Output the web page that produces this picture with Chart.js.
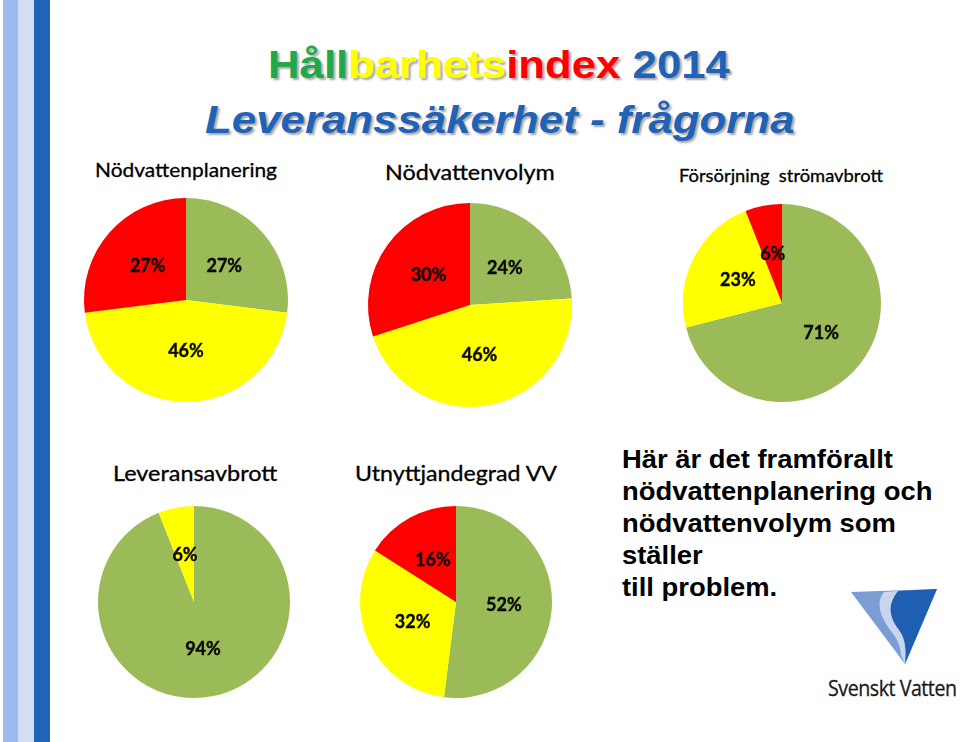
<!DOCTYPE html>
<html><head><meta charset="utf-8">
<script src="https://cdn.jsdelivr.net/npm/chart.js@4/dist/chart.umd.min.js"></script>
<style>
body{margin:0;width:960px;height:742px;background:#fff;position:relative;overflow:hidden;font-family:'Liberation Sans',Arial,sans-serif}
.stripe{position:absolute;top:0;height:742px}
.t{position:absolute;white-space:pre;transform-origin:left top;line-height:1}
canvas{position:absolute}
.h1{font-weight:bold;font-size:39px;text-shadow:2px 2px 2px rgba(0,0,0,0.35)}
.h2{font-weight:bold;font-style:italic;font-size:39px;color:#1f63b8;text-shadow:2px 2px 2px rgba(0,0,0,0.35)}
.ct{font-family:Lato,'Noto Sans',sans-serif;color:#000;-webkit-text-stroke:0.3px #000}
.rt{font-weight:bold;font-size:25px;line-height:32px;color:#000}
</style></head><body>
<div class="stripe" style="left:3px;width:15px;background:#9bbbee"></div>
<div class="stripe" style="left:18px;width:16px;background:#d5dcf5"></div>
<div class="stripe" style="left:34px;width:16px;background:#2064b8"></div>

<div id="title1" class="t h1"><span style="color:#22a84a">Håll</span><span style="color:#ffff00">barhets</span><span style="color:#ff0000">index</span><span style="color:#1f63b8"> 2014</span></div>
<div id="title2" class="t h2">Leveranssäkerhet - frågorna</div>

<div id="note" class="t rt">Här är det framförallt<br>nödvattenplanering och<br>nödvattenvolym som<br>ställer<br>till problem.</div>

<svg style="position:absolute;left:0;top:0" width="960" height="742">
  <path d="M851,592 L937,589 L905,664 Z" fill="#7b9dd3"/>
  <path d="M898,591 L937,589 L905,664 C906,650 906,640 899,630 C890,618 886,606 898,591 Z" fill="#1f5fb1"/>
  <path d="M884,592 L898,591 C886,606 890,618 899,630 C906,640 906,650 905,664 L901,655 C900,645 898,640 891,631 C879,615 876,602 884,592 Z" fill="#c8d5ee"/>
</svg>
<div id="logo" class="t" style="font-family:'Open Sans','Noto Sans',sans-serif;font-size:21px;color:#1a1a1a;letter-spacing:-0.5px;-webkit-text-stroke:0.3px #1a1a1a">Svenskt Vatten</div>

<canvas id="c1" width="230" height="230"></canvas>
<canvas id="c2" width="230" height="230"></canvas>
<canvas id="c3" width="230" height="230"></canvas>
<canvas id="c4" width="230" height="230"></canvas>
<canvas id="c5" width="230" height="230"></canvas>

<script>
// ---- data ----
const categories = ['Grön', 'Gul', 'Röd'];
const sliceColors = ['#9bbb59', '#ffff00', '#ff0000'];
const chartTitles = ['Nödvattenplanering', 'Nödvattenvolym', 'Försörjning  strömavbrott', 'Leveransavbrott', 'Utnyttjandegrad VV'];
const nodvattenplanering = [27, 46, 27];
const nodvattenvolym = [24, 46, 30];
const forsorjningStromavbrott = [71, 23, 6];
const leveransavbrott = [94, 6, 0];
const utnyttjandegradVV = [52, 32, 16];
const seriesList = [nodvattenplanering, nodvattenvolym, forsorjningStromavbrott, leveransavbrott, utnyttjandegradVV];

// ---- layout (not data) ----
const pies = [
  {id:'c1', cx:186, cy:300, r:102, tcx:186, tb:177, tw:182, ts:20},
  {id:'c2', cx:470, cy:305, r:102, tcx:470, tb:180, tw:170, ts:21},
  {id:'c3', cx:782, cy:303, r:99,  tcx:781, tb:182, tw:204, ts:17},
  {id:'c4', cx:194, cy:602, r:96,  tcx:195, tb:481, tw:164, ts:21},
  {id:'c5', cx:456, cy:602, r:96,  tcx:456, tb:481, tw:202, ts:21}
];

function fit(el, cx, left, top, width){
  const w = el.offsetWidth;
  const s = width / w;
  el.style.transform = 'scaleX(' + s + ')';
  el.style.left = (cx != null ? cx - width/2 : left) + 'px';
  el.style.top = top + 'px';
}

const labelPlugin = {
  id: 'pctLabels',
  afterDatasetsDraw(chart){
    const ctx = chart.ctx, ds = chart.data.datasets[0], meta = chart.getDatasetMeta(0);
    ctx.save();
    ctx.font = 'bold 18px Lato, "Noto Sans", sans-serif';
    ctx.fillStyle = '#0a0a0a';
    ctx.strokeStyle = '#0a0a0a';
    ctx.lineWidth = 0.4;
    ctx.textAlign = 'center';
    ctx.textBaseline = 'middle';
    meta.data.forEach((arc, i) => {
      const v = ds.data[i];
      if (!v) return;
      const a = (arc.startAngle + arc.endAngle) / 2;
      const rr = arc.outerRadius * 0.5;
      const x = arc.x + Math.cos(a) * rr, y = arc.y + Math.sin(a) * rr;
      ctx.fillText(v + '%', x, y);
      ctx.strokeText(v + '%', x, y);
    });
    ctx.restore();
  }
};

function build(){
  pies.forEach((p, k) => {
    const cv = document.getElementById(p.id);
    cv.style.left = (p.cx - 115) + 'px';
    cv.style.top = (p.cy - 115) + 'px';
    new Chart(cv, {
      type: 'pie',
      data: { labels: categories, datasets: [{ data: seriesList[k], backgroundColor: sliceColors, borderWidth: 0, hoverOffset: 0 }] },
      options: {
        responsive: false, animation: false, radius: p.r,
        layout: { padding: 0 },
        plugins: { legend: { display: false }, tooltip: { enabled: false } }
      },
      plugins: [labelPlugin]
    });
    const d = document.createElement('div');
    d.className = 't ct';
    d.style.fontSize = p.ts + 'px';
    d.textContent = chartTitles[k];
    document.body.appendChild(d);
    fit(d, p.tcx, null, p.tb - 0.887 * p.ts, p.tw);
  });
  fit(document.getElementById('title1'), 499, null, 45, 462);
  fit(document.getElementById('title2'), 500, null, 100, 590);
  fit(document.getElementById('note'), null, 622, 443, 310);
  fit(document.getElementById('logo'), null, 828, 678, 129);
}
if (document.fonts && document.fonts.ready) document.fonts.ready.then(build); else build();
</script>
</body></html>
